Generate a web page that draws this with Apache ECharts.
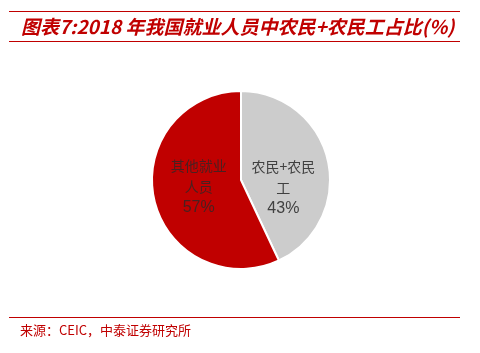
<!DOCTYPE html>
<html>
<head>
<meta charset="utf-8">
<script src="https://cdn.jsdelivr.net/npm/echarts@6/dist/echarts.min.js"></script>
<style>
  html, body { margin: 0; padding: 0; background: #fff; }
  #main { width: 480px; height: 353px; }
</style>
</head>
<body>
<div id="main"></div>
<script>
const categories = ['农民+农民工', '其他就业人员']
const labelLines = [['农民+农民', '工'], ['其他就业', '人员']]
const values = [43, 57]
const colors = ['#cccccc', '#c00000']
const textColors = ['#404040', '#4a2020']

const chart = echarts.init(document.getElementById('main'))
const red = '#c00000'
const cjk = '"Noto Sans CJK SC", sans-serif'

const rich = {}
textColors.forEach((c, i) => {
  rich['t' + i] = { fontFamily: cjk, fontSize: 14, lineHeight: 21, color: c, textBorderWidth: 0 }
  rich['v' + i] = { fontFamily: 'Arial, "Liberation Sans", sans-serif', fontSize: 16, lineHeight: 20, color: c, textBorderWidth: 0 }
})
const labelOffsets = [[-4, 18], [4, -4]]

chart.setOption({
  animation: false,
  graphic: [
    // 顶部线
    { type: 'line', shape: { x1: 9, y1: 11.5, x2: 460, y2: 11.5 }, style: { stroke: red, lineWidth: 1 } },
    {
      type: 'text', left: 21, top: 17,
      style: {
        text: '图表7:2018 年我国就业人员中农民+农民工占比(%)',
        fill: red, font: 'italic bold 19px ' + cjk,
      },
    },
    { type: 'line', shape: { x1: 9, y1: 41.5, x2: 460, y2: 41.5 }, style: { stroke: red, lineWidth: 1 } },
    // 底部线
    { type: 'line', shape: { x1: 9, y1: 317.5, x2: 460, y2: 317.5 }, style: { stroke: red, lineWidth: 1 } },
    {
      type: 'text', left: 20, top: 324,
      style: { text: '来源：CEIC，中泰证券研究所', fill: red, font: '13px ' + cjk },
    },
  ],
  series: [
    {
      type: 'pie',
      center: [241, 180],
      radius: [0, 89],
      startAngle: 90,
      clockwise: true,
      itemStyle: { borderColor: '#fff', borderWidth: 2 },
      label: {
        show: true,
        position: 'inside',
        textBorderWidth: 0,
        formatter: p => labelLines[p.dataIndex].map(s => '{t' + p.dataIndex + '|' + s + '}').join('\n') +
          '\n{v' + p.dataIndex + '|' + p.value + '%}',
        rich,
      },
      labelLine: { show: false },
      data: categories.map((name, i) => ({
        name,
        value: values[i],
        itemStyle: { color: colors[i] },
        label: { offset: labelOffsets[i] },
      })),
    },
  ],
})
</script>
</body>
</html>
